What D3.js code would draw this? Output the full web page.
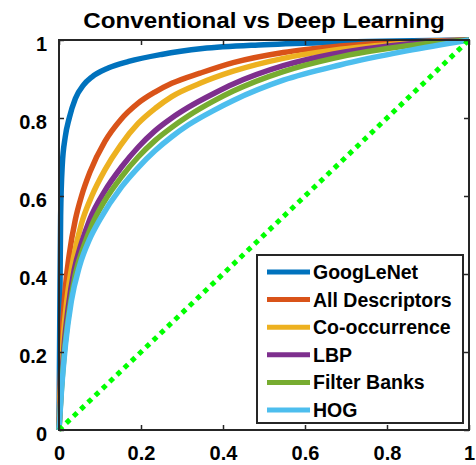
<!DOCTYPE html>
<html>
<head>
<meta charset="utf-8">
<script src="https://cdn.jsdelivr.net/npm/d3@7"></script>
<style>
  body { margin: 0; background: #fff; }
  text { font-family: "Liberation Sans", Arial, Helvetica, sans-serif; font-weight: bold; fill: #000; }
</style>
</head>
<body>
<div class="chart-box"></div>
<script>
// series names and colours
var seriesNames = ["GoogLeNet", "All Descriptors", "Co-occurrence", "LBP", "Filter Banks", "HOG"];
var seriesColors = ["#0072BD", "#D95319", "#EDB120", "#7E2F8E", "#77AC30", "#4DBEEE"];

// ROC points [false positive rate, true positive rate]
var googlenet = [[0,0],[0.002,0.3],[0.004,0.55],[0.008,0.68],[0.015,0.75],[0.025,0.8],[0.04,0.85],[0.06,0.885],[0.08,0.905],[0.12,0.928],[0.17,0.945],[0.25,0.963],[0.35,0.978],[0.5,0.988],[0.7,0.995],[1,1]];
var allDescriptors = [[0,0],[0.003,0.12],[0.008,0.25],[0.015,0.36],[0.025,0.45],[0.04,0.54],[0.055,0.6],[0.075,0.66],[0.112,0.74],[0.15,0.795],[0.193,0.838],[0.235,0.867],[0.275,0.889],[0.344,0.915],[0.425,0.942],[0.547,0.968],[0.669,0.983],[0.85,0.995],[1,1]];
var cooccurrence = [[0,0],[0.004,0.11],[0.01,0.23],[0.02,0.34],[0.035,0.44],[0.055,0.53],[0.08,0.6],[0.112,0.667],[0.15,0.73],[0.193,0.786],[0.235,0.825],[0.275,0.855],[0.344,0.889],[0.425,0.92],[0.547,0.953],[0.669,0.974],[0.85,0.992],[1,1]];
var lbp = [[0,0],[0.005,0.1],[0.012,0.21],[0.022,0.31],[0.037,0.41],[0.055,0.48],[0.075,0.54],[0.11,0.61],[0.153,0.675],[0.193,0.725],[0.234,0.767],[0.275,0.8],[0.315,0.827],[0.38,0.864],[0.425,0.887],[0.547,0.934],[0.669,0.964],[0.85,0.99],[1,1]];
var filterBanks = [[0,0],[0.005,0.09],[0.013,0.2],[0.024,0.3],[0.04,0.4],[0.06,0.47],[0.08,0.525],[0.11,0.585],[0.153,0.65],[0.193,0.7],[0.234,0.742],[0.275,0.776],[0.315,0.805],[0.38,0.845],[0.425,0.869],[0.547,0.919],[0.669,0.953],[0.85,0.985],[1,1]];
var hog = [[0,0],[0.006,0.1],[0.016,0.22],[0.03,0.33],[0.05,0.42],[0.075,0.49],[0.1,0.54],[0.153,0.624],[0.193,0.673],[0.234,0.716],[0.275,0.752],[0.315,0.782],[0.38,0.821],[0.425,0.845],[0.547,0.897],[0.685,0.936],[0.848,0.972],[1,1]];
var chance = [[0,0],[1,1]];

var xTicks = [0, 0.2, 0.4, 0.6, 0.8, 1];
var yTicks = [0, 0.2, 0.4, 0.6, 0.8, 1];

var seriesData = [googlenet, allDescriptors, cooccurrence, lbp, filterBanks, hog];

var width = 476, height = 465;
var margin = {top: 40, right: 7, bottom: 35, left: 59};
var innerW = width - margin.left - margin.right,
    innerH = height - margin.top - margin.bottom;

var svg = d3.select(".chart-box").append("svg")
    .attr("width", width)
    .attr("height", height);

var x = d3.scaleLinear().domain([0, 1]).range([margin.left, margin.left + innerW]);
var y = d3.scaleLinear().domain([0, 1]).range([margin.top + innerH, margin.top]);

var line = d3.line()
    .x(function(d) { return x(d[0]); })
    .y(function(d) { return y(d[1]); })
    .curve(d3.curveMonotoneX);

// title
svg.append("text")
    .attr("x", 0).attr("y", 0)
    .attr("text-anchor", "middle")
    .attr("font-size", 22)
    .attr("transform", "translate(264,28) scale(1.1,1)")
    .text("Conventional vs Deep Learning");

// curves
svg.append("g").selectAll("path")
    .data(seriesData)
    .enter().append("path")
    .attr("d", line)
    .attr("fill", "none")
    .attr("stroke", function(d, i) { return seriesColors[i]; })
    .attr("stroke-width", 5.5)
    .attr("stroke-linejoin", "round");

// chance diagonal
svg.append("path")
    .datum(chance)
    .attr("d", d3.line().x(function(d) { return x(d[0]); }).y(function(d) { return y(d[1]); }))
    .attr("fill", "none")
    .attr("stroke", "#00FF00")
    .attr("stroke-width", 5)
    .attr("stroke-dasharray", "5,5");

// axes: inward ticks on all sides
var axisColor = "#262626";
function styleAxis(g) {
  g.select(".domain").remove();
  g.selectAll(".tick line").attr("stroke", axisColor).attr("stroke-width", 1.5);
}

svg.append("g")
    .attr("transform", "translate(0," + (margin.top + innerH) + ")")
    .call(d3.axisBottom(x).tickValues(xTicks).tickSizeInner(-5).tickSizeOuter(0)
      .tickFormat(d3.format("~g")).tickPadding(16))
    .call(styleAxis)
    .call(function(g) { g.selectAll("text").attr("font-size", 20).attr("fill", "#000").attr("font-family", null); });

svg.append("g")
    .attr("transform", "translate(0," + margin.top + ")")
    .call(d3.axisTop(x).tickValues(xTicks).tickSizeInner(-5).tickSizeOuter(0).tickFormat(""))
    .call(styleAxis);

svg.append("g")
    .attr("transform", "translate(" + margin.left + ",0)")
    .call(d3.axisLeft(y).tickValues(yTicks).tickSizeInner(-5).tickSizeOuter(0)
      .tickFormat(d3.format("~g")).tickPadding(12))
    .call(styleAxis)
    .call(function(g) { g.selectAll("text").attr("font-size", 20).attr("fill", "#000").attr("font-family", null).attr("dy", "0.5em"); });

svg.append("g")
    .attr("transform", "translate(" + (margin.left + innerW) + ",0)")
    .call(d3.axisRight(y).tickValues(yTicks).tickSizeInner(-5).tickSizeOuter(0).tickFormat(""))
    .call(styleAxis);

svg.append("rect")
    .attr("x", margin.left).attr("y", margin.top)
    .attr("width", innerW).attr("height", innerH)
    .attr("fill", "none")
    .attr("stroke", axisColor)
    .attr("stroke-width", 2);

// legend
var legend = svg.append("g").attr("transform", "translate(257,255)");
legend.append("rect")
    .attr("width", 206).attr("height", 168)
    .attr("fill", "#fff")
    .attr("stroke", axisColor)
    .attr("stroke-width", 2);

var rows = legend.selectAll("g.row")
    .data(seriesNames)
    .enter().append("g")
    .attr("class", "row")
    .attr("transform", function(d, i) { return "translate(0," + (17 + i * 27.6) + ")"; });

rows.append("line")
    .attr("x1", 10).attr("x2", 53)
    .attr("stroke", function(d, i) { return seriesColors[i]; })
    .attr("stroke-width", 5);

rows.append("text")
    .attr("x", 56)
    .attr("dy", "0.36em")
    .attr("font-size", 19.5)
    .text(function(d) { return d; });
</script>
</body>
</html>
